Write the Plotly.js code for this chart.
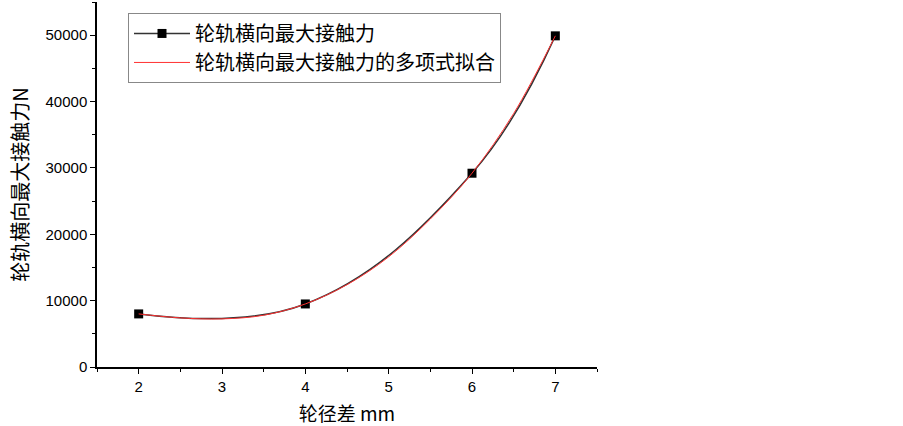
<!DOCTYPE html>
<html>
<head>
<meta charset="utf-8">
<script src="https://cdn.plot.ly/plotly-3.0.1.min.js"></script>
<style>
  body { margin: 0; background: #fff; }
  #plotlyDiv { width: 903px; height: 426px; }
</style>
</head>
<body>
<div id="plotlyDiv"></div>
<script>
// measured points
var diffMm = [2, 4, 6, 7];
var maxForce = [8000, 9500, 29200, 49900];

// polynomial fit curve
var fitX = [2, 2.5, 3, 3.5, 4, 4.5, 5, 5.5, 6, 6.5, 7];
var fitY = [8000, 7400, 7250, 7800, 9500, 12400, 16600, 22300, 29200, 38200, 49900];

var yTicks = [0, 10000, 20000, 30000, 40000, 50000];
var yLabels = ['0', '10000', '20000', '30000', '40000', '50000'];

function plotly_force() {

    var trace1 = {
        type: 'scatter',
        mode: 'lines+markers',
        name: '轮轨横向最大接触力',
        x: diffMm,
        y: maxForce,
        line: {color: '#333333', width: 1.5, shape: 'spline', smoothing: 1.15},
        marker: {symbol: 'square', size: 9, color: 'black'}
    };

    var trace2 = {
        type: 'scatter',
        mode: 'lines',
        name: '轮轨横向最大接触力的多项式拟合',
        x: fitX,
        y: fitY,
        line: {color: '#ff3030', width: 1, shape: 'spline', smoothing: 1}
    };

    var data = [trace1, trace2];

    var layout = {
        width: 903,
        height: 426,
        margin: {l: 97, r: 306, t: 2, b: 59},
        paper_bgcolor: 'white',
        plot_bgcolor: 'white',
        font: {family: 'Liberation Sans, Arial, sans-serif', size: 15, color: 'black'},
        showlegend: true,
        legend: {
            x: 0.062, y: 0.97, xanchor: 'left', yanchor: 'top',
            bordercolor: '#888888', borderwidth: 1,
            bgcolor: 'white',
            itemwidth: 56,
            tracegroupgap: 0,
            font: {family: 'Noto Sans CJK SC', size: 20, color: 'black'}
        },
        xaxis: {
            range: [1.5, 7.5],
            tickvals: [2, 3, 4, 5, 6, 7],
            ticks: 'outside', ticklen: 5, tickwidth: 1, tickcolor: 'black',
            minor: {ticks: 'outside', ticklen: 3, tickwidth: 1, tickcolor: 'black', dtick: 0.5},
            showline: true, linecolor: 'black', linewidth: 1.5,
            showgrid: false, zeroline: false,
            title: {text: '轮径差 mm', font: {family: 'Noto Sans CJK SC', size: 19}, standoff: 14}
        },
        yaxis: {
            range: [0, 55000],
            tickvals: yTicks,
            ticktext: yLabels,
            ticks: 'outside', ticklen: 5, tickwidth: 1, tickcolor: 'black',
            minor: {ticks: 'outside', ticklen: 3, tickwidth: 1, tickcolor: 'black', dtick: 5000},
            showline: true, linecolor: 'black', linewidth: 1.5,
            showgrid: false, zeroline: false,
            title: {text: '轮轨横向最大接触力N', font: {family: 'Noto Sans CJK SC', size: 20}, standoff: 12}
        }
    };

    Plotly.newPlot('plotlyDiv', data, layout, {displayModeBar: false});
}

plotly_force();
</script>
</body>
</html>
